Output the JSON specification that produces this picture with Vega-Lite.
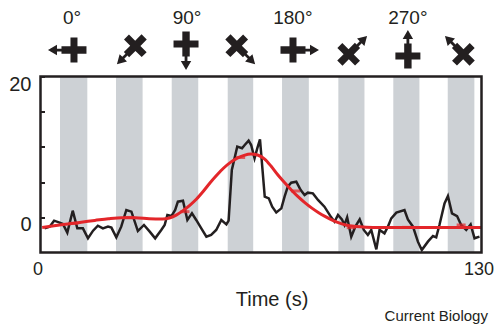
{
  "$schema": "https://vega.github.io/schema/vega-lite/v6.json",
  "width": 441,
  "height": 176,
  "autosize": {"type": "none"},
  "padding": {"left": 40.5, "top": 76.5, "right": 14.5, "bottom": 75.5},
  "background": "white",
  "config": {"view": {"stroke": null}, "font": "Liberation Sans"},
  "datasets": {
    "bands": [
      {"start": 5.75, "end": 13.8}, {"start": 22.26, "end": 30.1}, {"start": 38.68, "end": 46.5}, {"start": 55.19, "end": 62.7},
      {"start": 71.2, "end": 79.1}, {"start": 87.8, "end": 95.5}, {"start": 104.0, "end": 111.7}, {"start": 120.05, "end": 127.9}
    ],
    "trace": [
      {"t":1.2,"v":-1.57},{"t":2.7,"v":-1.33},{"t":4.0,"v":-0.48},{"t":5.65,"v":-0.76},{"t":6.6,"v":-0.95},{"t":7.9,"v":-2.18},{"t":9.5,"v":0.94},{"t":10.85,"v":-1.57},{"t":12.5,"v":-1.57},{"t":14.0,"v":-2.98},{"t":15.5,"v":-1.9},{"t":16.9,"v":-1.19},{"t":18.4,"v":-1.57},{"t":19.9,"v":-1.33},{"t":20.9,"v":-1.47},{"t":22.35,"v":-2.85},{"t":23.8,"v":-1.33},{"t":25.3,"v":1.04},{"t":26.8,"v":0.8},{"t":28.7,"v":-1.95},{"t":30.5,"v":-1.09},{"t":32.2,"v":-2.04},{"t":33.8,"v":-2.99},{"t":35.6,"v":-1.8},{"t":36.6,"v":-1.09},{"t":37.4,"v":0.33},{"t":38.6,"v":0.18},{"t":39.7,"v":1.04},{"t":40.5,"v":2.22},{"t":42.0,"v":2.36},{"t":43.3,"v":-0.38},{"t":44.65,"v":0.56},{"t":45.9,"v":-0.38},{"t":47.4,"v":-1.57},{"t":48.9,"v":-2.75},{"t":50.3,"v":-2.51},{"t":51.8,"v":-1.8},{"t":53.3,"v":-0.38},{"t":54.8,"v":-1.0},{"t":55.45,"v":-0.48},{"t":56.4,"v":6.72},{"t":58.0,"v":10.03},{"t":59.4,"v":9.8},{"t":60.2,"v":10.27},{"t":61.35,"v":10.88},{"t":62.1,"v":10.27},{"t":63.1,"v":8.37},{"t":63.9,"v":9.8},{"t":64.7,"v":11.07},{"t":66.1,"v":2.93},{"t":67.3,"v":2.69},{"t":68.3,"v":1.51},{"t":69.5,"v":0.7},{"t":71.0,"v":1.27},{"t":71.95,"v":2.93},{"t":72.9,"v":4.35},{"t":73.9,"v":4.92},{"t":75.4,"v":5.06},{"t":76.7,"v":3.88},{"t":77.85,"v":3.17},{"t":78.8,"v":3.5},{"t":80.3,"v":3.4},{"t":81.8,"v":2.46},{"t":83.7,"v":1.51},{"t":85.7,"v":0.0},{"t":86.7,"v":-0.62},{"t":87.7,"v":0.33},{"t":88.85,"v":-0.29},{"t":89.6,"v":-1.09},{"t":90.4,"v":0.0},{"t":91.6,"v":-2.75},{"t":92.8,"v":-1.33},{"t":94.1,"v":-0.29},{"t":95.3,"v":-1.8},{"t":96.5,"v":-2.51},{"t":97.5,"v":-1.8},{"t":99.0,"v":-4.55},{"t":99.95,"v":-1.8},{"t":101.4,"v":-2.28},{"t":102.4,"v":-1.33},{"t":103.4,"v":-0.15},{"t":104.9,"v":0.66},{"t":107.3,"v":1.04},{"t":108.3,"v":-0.29},{"t":109.8,"v":-1.33},{"t":111.25,"v":-3.46},{"t":112.4,"v":-4.64},{"t":114.2,"v":-3.46},{"t":115.7,"v":-2.66},{"t":116.65,"v":-2.85},{"t":117.6,"v":-1.09},{"t":119.1,"v":1.98},{"t":120.1,"v":3.03},{"t":121.3,"v":0.56},{"t":122.8,"v":0.18},{"t":124.0,"v":-1.09},{"t":125.5,"v":-1.8},{"t":126.8,"v":-1.0},{"t":127.95,"v":-2.98},{"t":129.4,"v":-2.75}
    ],
    "fit": [
      {"t":0.5,"v":-1.45},{"t":4,"v":-1.2},{"t":8,"v":-0.95},{"t":12,"v":-0.7},{"t":16,"v":-0.45},{"t":20,"v":-0.2},{"t":24,"v":-0.05},{"t":28,"v":-0.05},{"t":32,"v":-0.2},{"t":36,"v":-0.25},{"t":38,"v":-0.1},{"t":40,"v":0.3},{"t":42,"v":0.95},{"t":44,"v":1.7},{"t":46,"v":2.6},{"t":48,"v":3.7},{"t":50,"v":4.9},{"t":52,"v":6.0},{"t":54,"v":7.0},{"t":56,"v":7.8},{"t":58,"v":8.4},{"t":60,"v":8.8},{"t":62,"v":9.0},{"t":64,"v":8.85},{"t":66,"v":8.3},{"t":68,"v":7.25},{"t":70,"v":6.0},{"t":72,"v":4.9},{"t":74,"v":3.85},{"t":76,"v":2.9},{"t":78,"v":2.05},{"t":80,"v":1.3},{"t":82,"v":0.65},{"t":84,"v":0.1},{"t":86,"v":-0.4},{"t":88,"v":-0.8},{"t":90,"v":-1.1},{"t":93,"v":-1.3},{"t":96,"v":-1.4},{"t":100,"v":-1.45},{"t":130,"v":-1.45}
    ],
    "fitpts": [
      {"t":9.8,"v":-0.86},{"t":26.2,"v":-0.02},{"t":42.6,"v":0.8},{"t":59.0,"v":8.5},{"t":75.2,"v":3.74},{"t":91.6,"v":-1.47},{"t":107.9,"v":-1.43},{"t":124.0,"v":-1.09}
    ],
    "icons": [
      {"t":8.1,"dir":0},{"t":26.7,"dir":45},{"t":42.9,"dir":90},{"t":59.1,"dir":135},{"t":76.2,"dir":180},{"t":92.1,"dir":225},{"t":108.3,"dir":270},{"t":123.4,"dir":315}
    ],
    "labels": [
      {"t":9.3,"label":"0°"},{"t":43.2,"label":"90°"},{"t":74.4,"label":"180°"},{"t":108.3,"label":"270°"}
    ]
  },
  "layer": [
    {
      "data": {"name": "bands"},
      "mark": {"type": "rect", "color": "#cdd1d5"},
      "encoding": {
        "x": {"field": "start", "type": "quantitative",
          "scale": {"domain": [0, 130], "nice": false, "zero": false},
          "axis": {"values": [0, 130], "ticks": false, "domain": false, "grid": false,
            "labelFontSize": 18, "labelColor": "#231f20", "labelPadding": 8, "labelFlush": false, "labelOffset": -3,
            "title": "Time (s)", "titleFontSize": 20, "titleFontWeight": "normal", "titleColor": "#231f20",
            "titleX": 231, "titleY": 52.5, "titleBaseline": "alphabetic", "titleAlign": "center", "zindex": 1}},
        "x2": {"field": "end"}
      }
    },
    {
      "data": {"name": "trace"},
      "mark": {"type": "line", "color": "#231f20", "strokeWidth": 2.5},
      "encoding": {
        "x": {"field": "t", "type": "quantitative"},
        "y": {"field": "v", "type": "quantitative",
          "scale": {"domain": [-5, 20], "nice": false, "zero": false},
          "axis": {"values": [0, 5, 10, 15, 20],
            "labelExpr": "datum.value == 0 || datum.value == 20 ? datum.label : ''",
            "tickSize": -4, "tickWidth": 2, "tickColor": "#231f20", "domain": false, "grid": false,
            "labelFontSize": 20, "labelColor": "#231f20", "labelPadding": 13.5, "labelOffset": 7.5,
            "labelBaseline": "middle", "labelFlush": false, "labelOverlap": false, "title": null, "zindex": 1}}
      }
    },
    {
      "data": {"name": "fit"},
      "mark": {"type": "line", "color": "#e3262a", "strokeWidth": 3, "interpolate": "monotone"},
      "encoding": {
        "x": {"field": "t", "type": "quantitative"},
        "y": {"field": "v", "type": "quantitative"}
      }
    },
    {
      "data": {"name": "fitpts"},
      "mark": {"type": "tick", "color": "#e3262a", "orient": "horizontal", "size": 9, "thickness": 3},
      "encoding": {
        "x": {"field": "t", "type": "quantitative"},
        "y": {"field": "v", "type": "quantitative"}
      }
    },
    {
      "data": {"name": "icons"},
      "mark": {"type": "point", "filled": true, "color": "#231f20", "opacity": 1, "size": 1600,
        "shape": "M-0.925,-0.185L-0.475,-0.185L-0.475,-0.625L-0.125,-0.625L-0.125,-0.185L0.325,-0.185L0.325,-0.07L0.55,-0.07L0.55,-0.26L1,0L0.55,0.26L0.55,0.07L0.325,0.07L0.325,0.185L-0.125,0.185L-0.125,0.625L-0.475,0.625L-0.475,0.185L-0.925,0.185Z"},
      "encoding": {
        "x": {"field": "t", "type": "quantitative"},
        "y": {"datum": 23.76},
        "angle": {"field": "dir", "type": "quantitative", "scale": {"domain": [0, 360], "range": [180, -180]}}
      }
    },
    {
      "data": {"name": "labels"},
      "mark": {"type": "text", "fontSize": 19, "color": "#231f20", "baseline": "middle", "align": "center"},
      "encoding": {
        "x": {"field": "t", "type": "quantitative"},
        "y": {"datum": 28.31},
        "text": {"field": "label"}
      }
    },
    {
      "data": {"values": [{"credit": "Current Biology"}]},
      "mark": {"type": "text", "fontSize": 15, "color": "#231f20", "baseline": "alphabetic", "align": "right"},
      "encoding": {
        "x": {"datum": 131.9},
        "y": {"datum": -14.69},
        "text": {"field": "credit"}
      }
    },
    {
      "data": {"values": [{}]},
      "mark": {"type": "rect", "fill": null, "fillOpacity": 0, "stroke": "#231f20", "strokeWidth": 2.5},
      "encoding": {
        "x": {"datum": 0},
        "x2": {"datum": 130},
        "y": {"datum": -5},
        "y2": {"datum": 20}
      }
    }
  ]
}
